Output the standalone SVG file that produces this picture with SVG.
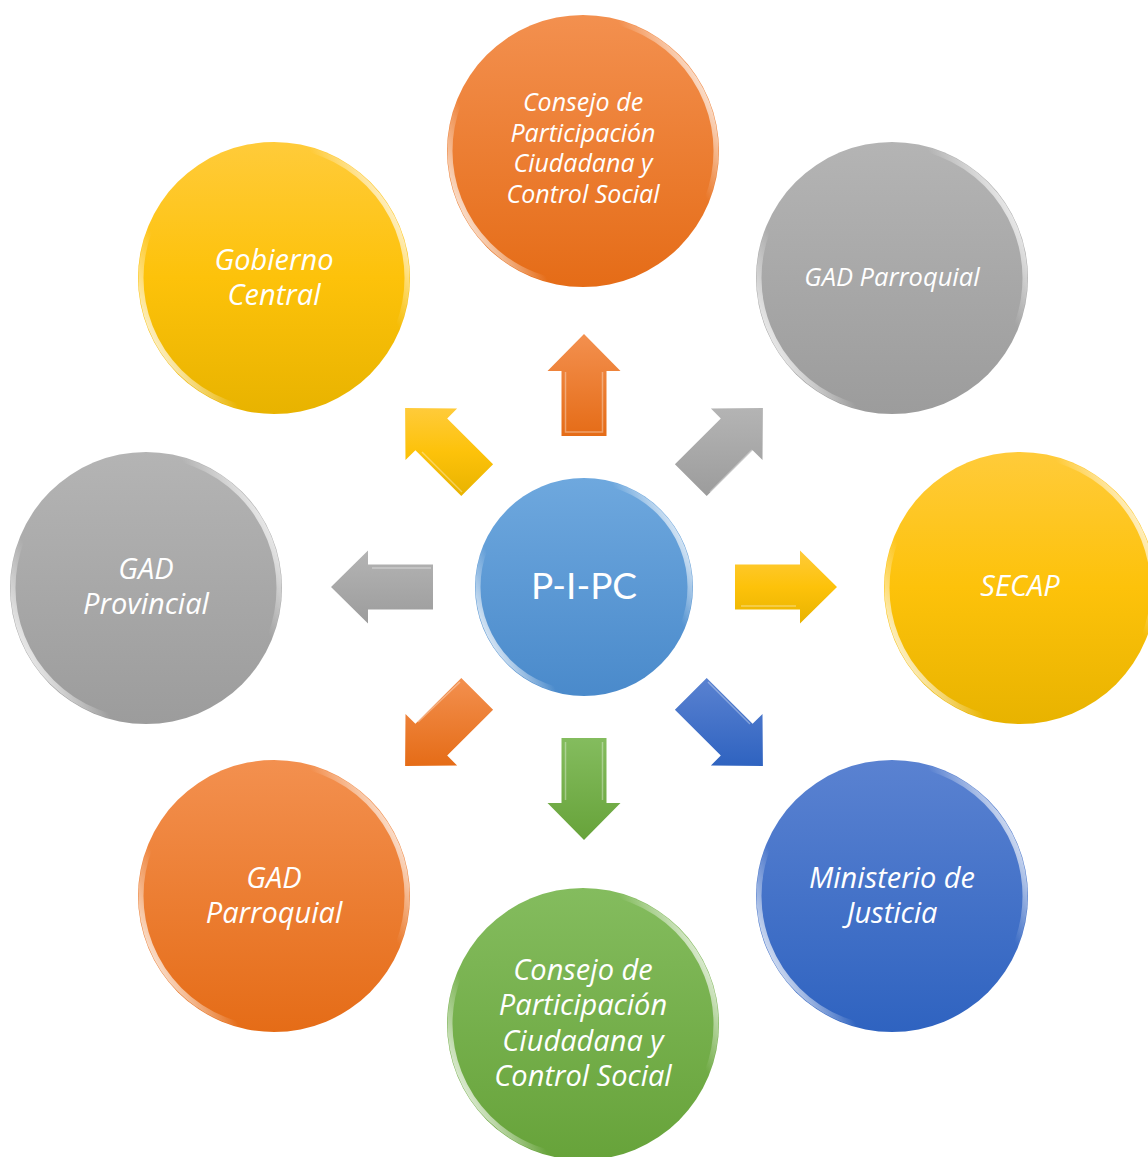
<svg xmlns="http://www.w3.org/2000/svg" width="1148" height="1157" viewBox="0 0 1148 1157">
<style>
.lbl{font-family:"Open Sans","Liberation Sans",sans-serif;font-style:italic;fill:#fff;text-anchor:middle}
.rim{fill:none;stroke:url(#rim);stroke-width:5}
.edge{fill:none;stroke:#ffffff;stroke-opacity:0.35;stroke-width:1.5}
.arr{stroke-linejoin:miter}
</style>
<defs>
<linearGradient id="gOr" x1="0" y1="0" x2="0" y2="1"><stop offset="0" stop-color="#F3904F"/><stop offset="1" stop-color="#E56C17"/></linearGradient>
<linearGradient id="gYe" x1="0" y1="0" x2="0" y2="1"><stop offset="0" stop-color="#FFCB3A"/><stop offset="0.5" stop-color="#FDC20A"/><stop offset="1" stop-color="#E8B300"/></linearGradient>
<linearGradient id="gGr" x1="0" y1="0" x2="0" y2="1"><stop offset="0" stop-color="#B4B4B4"/><stop offset="1" stop-color="#9C9C9C"/></linearGradient>
<linearGradient id="gBl" x1="0" y1="0" x2="0" y2="1"><stop offset="0" stop-color="#5A82D1"/><stop offset="1" stop-color="#2F63C0"/></linearGradient>
<linearGradient id="gGn" x1="0" y1="0" x2="0" y2="1"><stop offset="0" stop-color="#84BC5E"/><stop offset="1" stop-color="#67A33A"/></linearGradient>
<linearGradient id="gLb" x1="0" y1="0" x2="0" y2="1"><stop offset="0" stop-color="#6EA8DE"/><stop offset="1" stop-color="#4A8ACB"/></linearGradient>
<linearGradient id="rim" x1="0" y1="0.75" x2="1" y2="0.25">
<stop offset="0" stop-color="#fff" stop-opacity="0.95"/><stop offset="0.2" stop-color="#fff" stop-opacity="0"/>
<stop offset="0.8" stop-color="#fff" stop-opacity="0"/><stop offset="1" stop-color="#fff" stop-opacity="0.9"/></linearGradient>
</defs>
<g id="connectors">
<polygon class="arr" fill="url(#gOr)" points="584,334 620.5,371 606.5,371 606.5,436 561.5,436 561.5,371 547.5,371"/>
<polygon class="arr" fill="url(#gGr)" points="762.9,408.1 762.5,460.1 752.6,450.2 706.7,496.1 674.9,464.3 720.8,418.4 710.9,408.5"/>
<polygon class="arr" fill="url(#gYe)" points="837,587 800,550.5 800,564.5 735,564.5 735,609.5 800,609.5 800,623.5"/>
<polygon class="arr" fill="url(#gBl)" points="762.9,765.9 762.5,713.9 752.6,723.8 706.7,677.9 674.9,709.7 720.8,755.6 710.9,765.5"/>
<polygon class="arr" fill="url(#gGn)" points="584,840 620.5,803 606.5,803 606.5,738 561.5,738 561.5,803 547.5,803"/>
<polygon class="arr" fill="url(#gOr)" points="405.1,765.9 405.5,713.9 415.4,723.8 461.3,677.9 493.1,709.7 447.2,755.6 457.1,765.5"/>
<polygon class="arr" fill="url(#gGr)" points="331,587 368,550.5 368,564.5 433,564.5 433,609.5 368,609.5 368,623.5"/>
<polygon class="arr" fill="url(#gYe)" points="405.1,408.1 405.5,460.1 415.4,450.2 461.3,496.1 493.1,464.3 447.2,418.4 457.1,408.5"/>
<g class="edge">
<polyline points="565.5,372 565.5,432 602.5,432 602.5,372"/>
<polyline points="741,606 796,606"/>
<polyline points="565.5,742 565.5,800"/><polyline points="602.5,742 602.5,800"/>
<polyline points="431,568 372,568"/>
<polyline points="710,492 752,450"/><polyline points="422,452 462,492"/>
<polyline points="708,682 750,724"/><polyline points="418,722 460,682"/>
</g>
</g>
<g id="node-center">
<circle cx="584" cy="587" r="109" fill="url(#gLb)"/>
<circle class="rim" cx="584" cy="587" r="106"/>
<text x="584" y="599" font-family="Lato,'Liberation Sans',sans-serif" font-size="37" fill="#fff" text-anchor="middle">P-I-PC</text>
</g>
<g id="node-cpccs-top">
<circle cx="583" cy="151" r="136" fill="url(#gOr)"/>
<circle class="rim" cx="583" cy="151" r="133"/>
<text class="lbl" font-size="25"><tspan x="583" y="111">Consejo de</tspan><tspan x="583" y="142">Participación</tspan><tspan x="583" y="172">Ciudadana y</tspan><tspan x="583" y="203">Control Social</tspan></text>
</g>
<g id="node-gad-parroquial-tr">
<circle cx="892" cy="278" r="136" fill="url(#gGr)"/>
<circle class="rim" cx="892" cy="278" r="133"/>
<text class="lbl" font-size="25.5" x="892" y="286">GAD Parroquial</text>
</g>
<g id="node-secap">
<circle cx="1020" cy="588" r="136" fill="url(#gYe)"/>
<circle class="rim" cx="1020" cy="588" r="133"/>
<text class="lbl" font-size="29" x="1020" y="596">SECAP</text>
</g>
<g id="node-ministerio">
<circle cx="892" cy="896" r="136" fill="url(#gBl)"/>
<circle class="rim" cx="892" cy="896" r="133"/>
<text class="lbl" font-size="29"><tspan x="892" y="888">Ministerio de</tspan><tspan x="892" y="923">Justicia</tspan></text>
</g>
<g id="node-cpccs-bottom">
<circle cx="583" cy="1024" r="136" fill="url(#gGn)"/>
<circle class="rim" cx="583" cy="1024" r="133"/>
<text class="lbl" font-size="29"><tspan x="583" y="980">Consejo de</tspan><tspan x="583" y="1015">Participación</tspan><tspan x="583" y="1051">Ciudadana y</tspan><tspan x="583" y="1086">Control Social</tspan></text>
</g>
<g id="node-gad-parroquial-bl">
<circle cx="274" cy="896" r="136" fill="url(#gOr)"/>
<circle class="rim" cx="274" cy="896" r="133"/>
<text class="lbl" font-size="29"><tspan x="274" y="888">GAD</tspan><tspan x="274" y="923">Parroquial</tspan></text>
</g>
<g id="node-gad-provincial">
<circle cx="146" cy="588" r="136" fill="url(#gGr)"/>
<circle class="rim" cx="146" cy="588" r="133"/>
<text class="lbl" font-size="29"><tspan x="146" y="579">GAD</tspan><tspan x="146" y="614">Provincial</tspan></text>
</g>
<g id="node-gobierno-central">
<circle cx="274" cy="278" r="136" fill="url(#gYe)"/>
<circle class="rim" cx="274" cy="278" r="133"/>
<text class="lbl" font-size="29"><tspan x="274" y="270">Gobierno</tspan><tspan x="274" y="305">Central</tspan></text>
</g>
</svg>
